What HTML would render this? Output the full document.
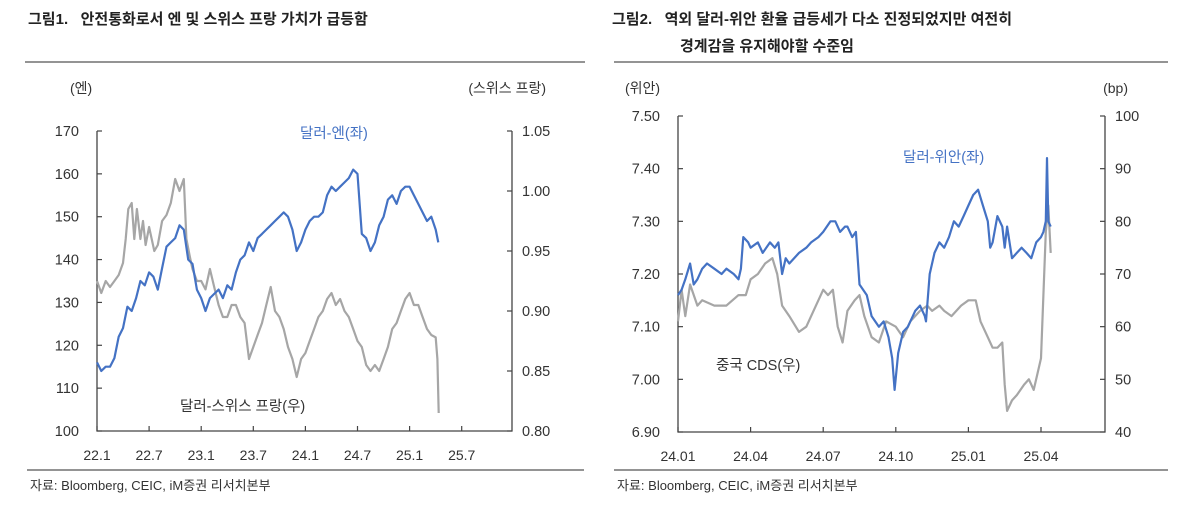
<!DOCTYPE html>
<html><head><meta charset="utf-8">
<style>
html,body{margin:0;padding:0;background:#fff;}
body{width:1199px;height:505px;overflow:hidden;font-family:"Liberation Sans","Noto Sans CJK KR",sans-serif;}
svg text{font-family:"Liberation Sans","Noto Sans CJK KR",sans-serif;}
.tt{font-weight:bold;white-space:pre;}
</style></head>
<body>
<svg id="c" width="1199" height="505" viewBox="0 0 1199 505">
  <text class="tt" x="28" y="24" font-size="15" fill="#222">그림1.   안전통화로서 엔 및 스위스 프랑 가치가 급등함</text>
  <line x1="25" y1="62" x2="585" y2="62" stroke="#555" stroke-width="1.2"/>
  <text class="tt" x="612" y="24" font-size="15" fill="#222">그림2.   역외 달러-위안 환율 급등세가 다소 진정되었지만 여전히</text>
  <text class="tt" x="680" y="51" font-size="15" fill="#222">경계감을 유지해야할 수준임</text>
  <line x1="614" y1="62" x2="1168" y2="62" stroke="#555" stroke-width="1.2"/>
  <text x="70" y="93" font-size="14" fill="#333">(엔)</text>
  <text x="546" y="93" font-size="14" fill="#333" text-anchor="end">(스위스 프랑)</text>
  <text x="625" y="93" font-size="14" fill="#333">(위안)</text>
  <text x="1128" y="93" font-size="14" fill="#333" text-anchor="end">(bp)</text>
  <line x1="27" y1="470" x2="584" y2="470" stroke="#555" stroke-width="1.2"/>
  <line x1="614" y1="470" x2="1168" y2="470" stroke="#555" stroke-width="1.2"/>
  <text x="30" y="490" font-size="13" fill="#333">자료: Bloomberg, CEIC, iM증권 리서치본부</text>
  <text x="617" y="490" font-size="13" fill="#333">자료: Bloomberg, CEIC, iM증권 리서치본부</text>
  <text x="300" y="138" font-size="14.5" fill="#4472C4">달러-엔(좌)</text>
  <text x="180" y="411" font-size="14.5" fill="#333">달러-스위스 프랑(우)</text>
  <text x="903" y="162" font-size="14.5" fill="#4472C4">달러-위안(좌)</text>
  <text x="716" y="370" font-size="14.5" fill="#333">중국 CDS(우)</text>
</svg>
<script>
// Chart 1 data (x = months since 2022-01)
const jpyMonths=[0,0.5,1,1.5,2,2.5,3,3.5,4,4.5,5,5.5,6,6.5,7,7.5,8,8.5,9,9.5,10,10.5,11,11.5,12,12.5,13,13.5,14,14.5,15,15.5,16,16.5,17,17.5,18,18.5,19,19.5,20,20.5,21,21.5,22,22.5,23,23.5,24,24.5,25,25.5,26,26.5,27,27.5,28,28.5,29,29.5,30,30.5,31,31.5,32,32.5,33,33.5,34,34.5,35,35.5,36,36.5,37,37.5,38,38.5,39,39.3];
const jpyValues=[116,114,115,115,117,122,124,129,128,131,135,134,137,136,133,138,143,144,145,148,147,140,139,133,131,128,131,132,133,131,134,133,137,140,141,144,142,145,146,147,148,149,150,151,150,147,142,144,147,149,150,150,151,155,157,156,157,158,159,161,160,146,145,142,144,148,150,154,155,153,156,157,157,155,153,151,149,150,147,144];
const chfMonths=[0,0.5,1,1.5,2,2.5,3,3.3,3.6,4,4.3,4.6,5,5.3,5.6,6,6.3,6.6,7,7.5,8,8.5,9,9.5,10,10.3,10.7,11,11.5,12,12.5,13,13.5,14,14.5,15,15.5,16,16.5,17,17.5,18,18.5,19,19.5,20,20.5,21,21.5,22,22.5,23,23.5,24,24.5,25,25.5,26,26.5,27,27.5,28,28.5,29,29.5,30,30.5,31,31.5,32,32.5,33,33.5,34,34.5,35,35.5,36,36.5,37,37.5,38,38.5,39,39.2,39.35];
const chfValues=[0.925,0.915,0.925,0.92,0.925,0.93,0.94,0.96,0.985,0.99,0.96,0.985,0.96,0.975,0.955,0.97,0.96,0.95,0.955,0.975,0.98,0.99,1.01,1.0,1.01,0.96,0.945,0.935,0.925,0.925,0.918,0.935,0.92,0.905,0.895,0.895,0.905,0.905,0.895,0.89,0.86,0.87,0.88,0.89,0.905,0.92,0.9,0.895,0.885,0.87,0.86,0.845,0.86,0.865,0.875,0.885,0.895,0.9,0.91,0.915,0.905,0.91,0.9,0.895,0.885,0.875,0.87,0.855,0.85,0.855,0.85,0.86,0.87,0.885,0.89,0.9,0.91,0.915,0.905,0.905,0.895,0.885,0.88,0.878,0.86,0.815];
const xTicks1=["22.1","22.7","23.1","23.7","24.1","24.7","25.1","25.7"];
const yLeft1=[100,110,120,130,140,150,160,170];
const yRight1=["0.80","0.85","0.90","0.95","1.00","1.05"];

// Chart 2 data (x = months since 2024-01)
const cnyMonths=[0,0.15,0.3,0.5,0.65,0.8,1.0,1.2,1.5,1.8,2.0,2.3,2.5,2.6,2.7,2.9,3.0,3.3,3.5,3.8,4.0,4.15,4.3,4.45,4.6,5.0,5.3,5.5,5.8,6.0,6.3,6.5,6.7,6.9,7.0,7.2,7.35,7.5,7.8,8.0,8.3,8.5,8.7,8.85,8.95,9.1,9.3,9.5,9.8,10.0,10.2,10.25,10.4,10.6,10.8,11.0,11.2,11.4,11.6,11.8,12.0,12.2,12.4,12.6,12.8,12.9,13.0,13.2,13.4,13.5,13.6,13.8,14.0,14.2,14.4,14.6,14.8,15.0,15.1,15.2,15.25,15.3,15.4];
const cnyValues=[7.16,7.17,7.19,7.22,7.18,7.19,7.21,7.22,7.21,7.2,7.21,7.2,7.19,7.21,7.27,7.26,7.25,7.26,7.24,7.26,7.25,7.26,7.2,7.23,7.22,7.24,7.25,7.26,7.27,7.28,7.3,7.3,7.28,7.29,7.29,7.27,7.28,7.18,7.16,7.12,7.1,7.11,7.08,7.04,6.98,7.05,7.09,7.1,7.13,7.14,7.12,7.11,7.2,7.24,7.26,7.25,7.27,7.3,7.29,7.31,7.33,7.35,7.36,7.33,7.3,7.25,7.26,7.31,7.29,7.25,7.29,7.23,7.24,7.25,7.24,7.23,7.26,7.27,7.28,7.3,7.42,7.3,7.29];
const cdsMonths=[0,0.15,0.3,0.5,0.8,1.0,1.5,2.0,2.5,2.8,3.0,3.3,3.6,3.9,4.1,4.3,4.6,5.0,5.3,5.6,6.0,6.2,6.4,6.6,6.8,7.0,7.3,7.5,7.7,8.0,8.3,8.6,9.0,9.3,9.6,10.0,10.3,10.5,10.8,11.0,11.3,11.7,12.0,12.3,12.5,12.8,13.0,13.2,13.4,13.5,13.6,13.8,14.0,14.3,14.5,14.7,14.9,15.0,15.1,15.2,15.3,15.4];
const cdsValues=[61,67,62,68,64,65,64,64,66,66,69,70,72,73,70,64,62,59,60,63,67,66,67,60,57,63,65,66,62,58,57,61,60,58,61,63,64,63,64,63,62,64,65,65,61,58,56,56,57,49,44,46,47,49,50,48,52,54,66,78,83,74];
const xTicks2=["24.01","24.04","24.07","24.10","25.01","25.04"];
const yLeft2=["6.90","7.00","7.10","7.20","7.30","7.40","7.50"];
const yRight2=[40,50,60,70,80,90,100];

const NS="http://www.w3.org/2000/svg";
const svg=document.getElementById('c');
function mk(tag,attrs,parent){const e=document.createElementNS(NS,tag);for(const k in attrs)e.setAttribute(k,attrs[k]);(parent||svg).appendChild(e);return e;}

function drawChart(cfg){
  const g=mk('g',{});
  
  
  const {x0,x1,y0,y1}=cfg;
  const xs=m=>x0+m*cfg.pxPerMonth;
  const yl=v=>y0-(v-cfg.lMin)/(cfg.lMax-cfg.lMin)*(y0-y1);
  const yr=v=>y0-(v-cfg.rMin)/(cfg.rMax-cfg.rMin)*(y0-y1);
  const ax=mk('path',{d:`M${x0},${y1}V${y0}H${x1}V${y1}`,fill:'none',stroke:'#444','stroke-width':1.3},g);
  
  
  cfg.yLeft.forEach(t=>{const y=yl(+t);
    mk('line',{x1:x0,x2:x0+5,y1:y,y2:y,stroke:'#444','stroke-width':1.2},g);
    const tx=mk('text',{x:x0-18,y:y+5,'font-size':14.5,fill:'#333','text-anchor':'end'},g);tx.textContent=t;
    
    });
  cfg.yRight.forEach(t=>{const y=yr(+t);
    mk('line',{x1:x1-5,x2:x1,y1:y,y2:y,stroke:'#444','stroke-width':1.2},g);
    const tx=mk('text',{x:x1+10,y:y+5,'font-size':14.5,fill:'#333'},g);tx.textContent=t;
    
    });
  cfg.xTicks.forEach((t,i)=>{const x=xs(i*cfg.tickStep);
    mk('line',{x1:x,x2:x,y1:y0,y2:y0-5,stroke:'#444','stroke-width':1.2},g);
    const tx=mk('text',{x:x,y:y0+29,'font-size':14,fill:'#333','text-anchor':'middle'},g);tx.textContent=t;
    
    });
  cfg.series.forEach(s=>{
    const sc=s.axis==='left'?yl:yr;
    const d=s.xs.map((m,i)=>(i?'L':'M')+xs(m).toFixed(1)+','+sc(s.ys[i]).toFixed(1)).join('');
    const p=mk('path',{d,fill:'none',stroke:s.color,'stroke-width':2.2,'stroke-linejoin':'round'},g);
    
    
  });
}
drawChart({name:'chart-figure1',x0:97,x1:512,y0:431,y1:131,pxPerMonth:52.1/6,tickStep:6,
  lMin:100,lMax:170,rMin:0.80,rMax:1.05,yLeft:yLeft1,yRight:yRight1,xTicks:xTicks1,
  series:[{name:'usdchf-line',xs:chfMonths,ys:chfValues,axis:'right',color:'#A6A6A6'},
          {name:'usdjpy-line',xs:jpyMonths,ys:jpyValues,axis:'left',color:'#4472C4'}]});
drawChart({name:'chart-figure2',x0:678,x1:1105,y0:432,y1:116,pxPerMonth:72.6/3,tickStep:3,
  lMin:6.90,lMax:7.50,rMin:40,rMax:100,yLeft:yLeft2,yRight:yRight2,xTicks:xTicks2,
  series:[{name:'china-cds-line',xs:cdsMonths,ys:cdsValues,axis:'right',color:'#A6A6A6'},
          {name:'usdcny-line',xs:cnyMonths,ys:cnyValues,axis:'left',color:'#4472C4'}]});
</script>
</body></html>
